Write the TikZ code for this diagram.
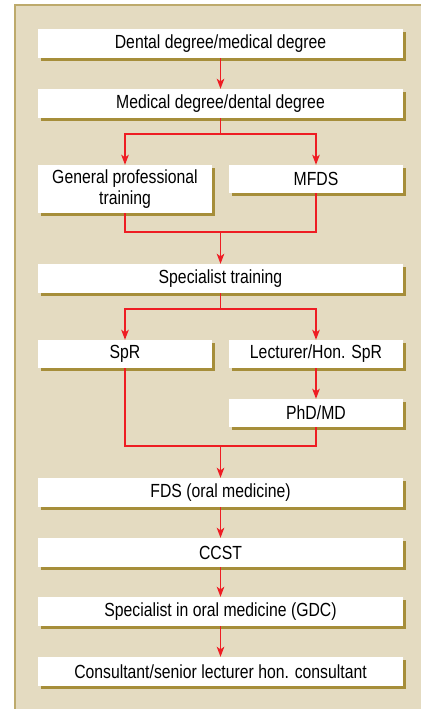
\documentclass[tikz,border=0pt]{standalone}
\usepackage{fontspec}
\setmainfont[FakeStretch=0.83]{Liberation Sans}
\usetikzlibrary{arrows.meta,shadows}
\definecolor{panelbg}{HTML}{E4DBC1}
\definecolor{panelborder}{HTML}{BDAA6C}
\definecolor{shadowc}{HTML}{A68E3A}
\definecolor{arrowred}{HTML}{EE1D23}
\begin{document}
\begin{tikzpicture}[x=1pt,y=-1pt,
  box/.style={rectangle, fill=white, draw=none, inner sep=0pt, align=center,
    font=\fontsize{19}{20.5}\selectfont, text=black,
    drop shadow={shadow xshift=3pt, shadow yshift=-3pt, fill=shadowc, opacity=1}},
  full/.style={box, minimum width=365pt, minimum height=29pt},
  half/.style={box, minimum width=174pt, minimum height=28pt},
  link/.style={draw=arrowred, line width=1.5pt},
  arr/.style={link, -{Stealth[length=10pt,width=7.5pt,inset=2.5pt]}}]
\useasboundingbox (0,0) rectangle (421,709);
\fill[panelbg] (15,5) rectangle (421,709);
\draw[panelborder, line width=1.5pt] (15,709) -- (15,5) -- (421,5);

\node[full] (b1) at (220.5,43.5) {Dental degree/medical degree};
\node[full] (b2) at (220.5,103.5) {Medical degree/dental degree};
\node[half, minimum height=48pt] (gpt) at (125,189) {General professional\\training};
\node[half] (mfds) at (316,179) {MFDS};
\node[full] (spec) at (220.5,278.5) {Specialist training};
\node[half] (spr) at (125,354) {SpR};
\node[half] (lect) at (316,354) {Lecturer/Hon. SpR};
\node[half] (phd) at (316,413) {PhD/MD};
\node[full] (fds) at (220.5,492.5) {FDS (oral medicine)};
\node[full] (ccst) at (220.5,552.5) {CCST};
\node[full] (som) at (220.5,611.5) {Specialist in oral medicine (GDC)};
\node[full] (cons) at (220.5,671.5) {Consultant/senior lecturer hon. consultant};

\coordinate (s1) at (220.5,134);
\coordinate (m1) at (220.5,232);
\coordinate (s2) at (220.5,309);
\coordinate (m2) at (220.5,446);

\draw[arr] (b1) -- (b2);
\draw[link] (b2) -- (s1);
\draw[arr] (s1) -| (gpt);
\draw[arr] (s1) -| (mfds);
\draw[link] (gpt) |- (m1) -| (mfds);
\draw[arr] (m1) -- (spec);
\draw[link] (spec) -- (s2);
\draw[arr] (s2) -| (spr);
\draw[arr] (s2) -| (lect);
\draw[arr] (lect) -- (phd);
\draw[link] (spr) |- (m2) -| (phd);
\draw[arr] (m2) -- (fds);
\draw[arr] (fds) -- (ccst);
\draw[arr] (ccst) -- (som);
\draw[arr] (som) -- (cons);
\end{tikzpicture}
\end{document}
